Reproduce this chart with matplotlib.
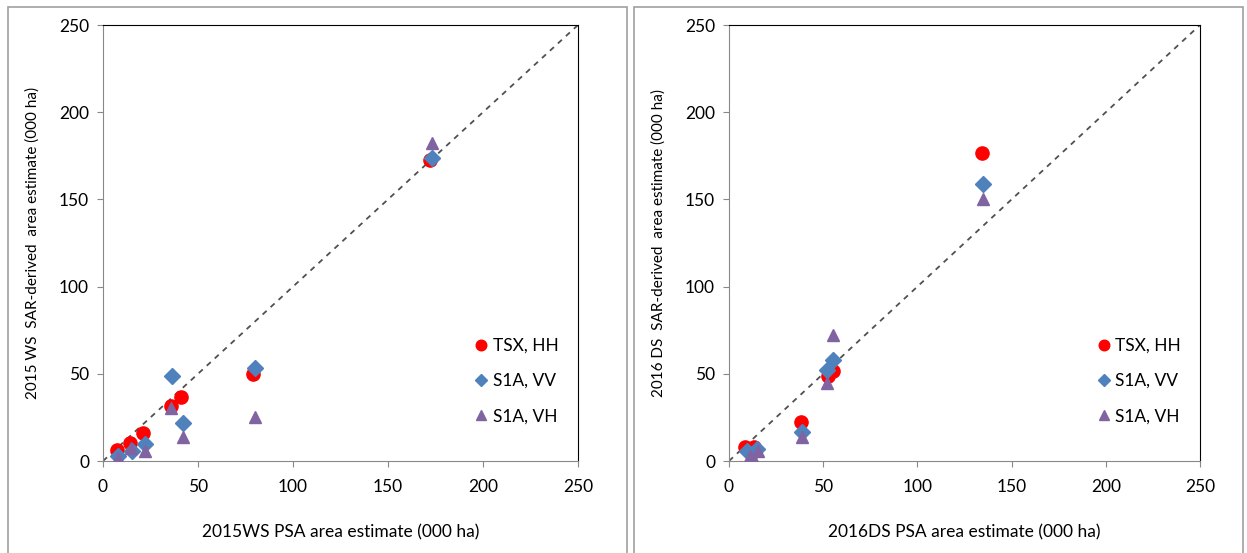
import numpy as np
import matplotlib.pyplot as plt
from matplotlib.patches import Rectangle

plt.rcParams['font.family'] = ['Lato', 'DejaVu Sans']

# 2015 WS panel
ws_tsx_x = [7.5, 14, 21, 36, 41, 79, 172]
ws_tsx_y = [6.5, 10.5, 16, 31.5, 36.5, 50, 172.5]
ws_vv_x = [8, 15, 22, 36.5, 42, 80, 173]
ws_vv_y = [3, 6, 10, 48.5, 22, 53.5, 174]
ws_vh_x = [8, 14.5, 22, 36, 42, 80, 173]
ws_vh_y = [1.5, 7.5, 6, 30.5, 13.5, 25, 182.5]

# 2016 DS panel
ds_tsx_x = [8.5, 13.5, 38, 52.5, 55, 134.5]
ds_tsx_y = [8, 8, 22.5, 49, 51.5, 176.5]
ds_vv_x = [9.5, 12, 15, 38.5, 52, 55, 135]
ds_vv_y = [5.5, 4, 7, 16.5, 52, 58, 159]
ds_vh_x = [11, 12.5, 15.5, 39, 52, 55, 135]
ds_vh_y = [3, 2, 6, 13.5, 45, 72.5, 150]

labels = ['TSX, HH', 'S1A, VV', 'S1A, VH']
xlabels = ['2015WS PSA area estimate (000 ha)', '2016DS PSA area estimate (000 ha)']
ylabels = ['2015 WS  SAR-derived  area estimate (000 ha)', '2016 DS  SAR-derived  area estimate (000 ha)']

fig = plt.figure(figsize=(12.47, 5.53), dpi=100)

# gray frames around each panel
fig.patches.append(Rectangle((8/1247, -0.01), 619/1247, 0.998, transform=fig.transFigure,
                             fill=False, edgecolor='#a0a0a0', linewidth=1.2))
fig.patches.append(Rectangle((634/1247, -0.01), 609/1247, 0.998, transform=fig.transFigure,
                             fill=False, edgecolor='#a0a0a0', linewidth=1.2))

ax1 = fig.add_axes([103/1247, 92/553, 475/1247, 436/553])
ax2 = fig.add_axes([729/1247, 92/553, 471/1247, 436/553])

panels = [
    (ax1, [(ws_tsx_x, ws_tsx_y), (ws_vv_x, ws_vv_y), (ws_vh_x, ws_vh_y)]),
    (ax2, [(ds_tsx_x, ds_tsx_y), (ds_vv_x, ds_vv_y), (ds_vh_x, ds_vh_y)]),
]
styles = [('o', '#ff0000', 9.5), ('D', '#4f81bd', 8), ('^', '#8064a2', 9)]

for i, (ax, series) in enumerate(panels):
    ax.plot([0, 250], [0, 250], linestyle=(0, (3, 3)), color='#505050', linewidth=1.3, zorder=1)
    for (x, y), (m, c, ms), lab in zip(series, styles, labels):
        ax.plot(x, y, linestyle='none', marker=m, color=c, markersize=ms, label=lab, zorder=3)
    ax.set_xlim(0, 250)
    ax.set_ylim(0, 250)
    ax.set_xticks(np.arange(0, 251, 50))
    ax.set_yticks(np.arange(0, 251, 50))
    ax.tick_params(direction='out', length=4, color='#888888', labelsize=12.5)
    ax.tick_params(axis='x', pad=9)
    ax.tick_params(axis='y', pad=6)
    for s in ['left', 'bottom']:
        ax.spines[s].set_color('#888888')
    for s in ['top', 'right']:
        ax.spines[s].set_color('#000000')
    ax.set_xlabel(xlabels[i], fontsize=12.5, labelpad=21)
    ax.set_ylabel(ylabels[i], fontsize=11, labelpad=14)
    ax.legend(loc='upper left', bbox_to_anchor=(0.778, 0.283), frameon=False, fontsize=12.5,
              handletextpad=0.15, labelspacing=1.12, handlelength=1.0, markerscale=0.8,
              borderaxespad=0, borderpad=0)

fig.savefig('out.png', dpi=100)
